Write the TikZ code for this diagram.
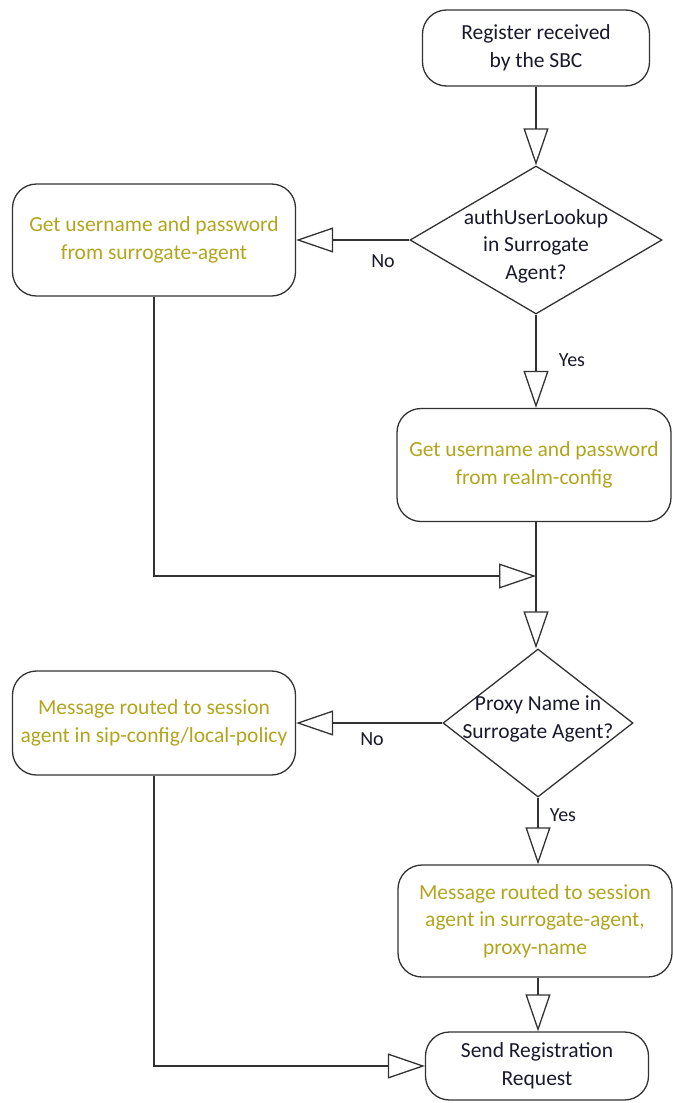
\documentclass[tikz,border=0pt]{standalone}
\usepackage{fontspec}
\setmainfont{Carlito}
\usetikzlibrary{arrows.meta,shapes.geometric}
\definecolor{txtdark}{RGB}{25,25,45}
\definecolor{txtolive}{RGB}{178,165,30}
\definecolor{linegray}{RGB}{50,50,50}
\begin{document}
\begin{tikzpicture}[x=1pt,y=-1pt,
  every node/.style={font=\fontsize{21.5}{27.5}\selectfont},
  box/.style={draw=linegray, line width=1.3pt, rounded corners=24pt, align=center, inner sep=0pt},
  dia/.style={draw=linegray, line width=1.3pt, diamond, inner sep=0pt},
  flow/.style={draw=linegray, line width=1.3pt, -{Triangle[open,length=37pt,width=25pt,line width=1.3pt]}},
  lbl/.style={text=txtdark, font=\fontsize{20}{24}\selectfont}]
\useasboundingbox (0,0) rectangle (672,1103);

% nodes
\node[box, minimum width=227pt, minimum height=76pt, text=txtdark] (start) at (536,48) {Register received\\by the SBC};
\node[dia, minimum width=252pt, minimum height=148pt] (d1) at (536,240) {};
\node[text=txtdark, align=center] (d1t) at (536,246) {authUserLookup\\in Surrogate\\Agent?};
\node[box, minimum width=283pt, minimum height=112pt, text=txtolive] (b1) at (154,240) {Get username and password\\from surrogate-agent};
\node[box, minimum width=274pt, minimum height=113pt, text=txtolive] (b2) at (534,465) {Get username and password\\from realm-config};
\coordinate (j) at (536,576);
\node[dia, minimum width=190pt, minimum height=148pt] (d2) at (538,723) {};
\node[text=txtdark, align=center] (d2t) at (538,719) {Proxy Name in\\Surrogate Agent?};
\node[box, minimum width=283pt, minimum height=104pt, text=txtolive] (b3) at (154,723) {Message routed to session\\agent in sip-config/local-policy};
\node[box, minimum width=274pt, minimum height=112pt, text=txtolive] (b4) at (535,921) {Message routed to session\\agent in surrogate-agent,\\proxy-name};
\node[box, minimum width=223pt, minimum height=68pt, text=txtdark] (fin) at (537,1066) {Send Registration\\Request};

% labels
\node[lbl] (no1) at (383,261) {No};
\node[lbl] (yes1) at (572,360) {Yes};
\node[lbl] (no2) at (372,739) {No};
\node[lbl] (yes2) at (563,815) {Yes};

% connectors
\draw[flow] (start.south -| d1.north) -- (d1.north);
\draw[flow] (d1.west) -- (b1.east);
\draw[flow] (d1.south) -- (d1.south |- b2.north);
\draw[flow] (b1.south) |- (j);
\draw[flow] (d1.south |- b2.south) -- (d1.south |- d2.north);
\draw[flow] (d2.west) -- (b3.east);
\draw[flow] (d2.south) -- (d2.south |- b4.north);
\draw[flow] (d2.south |- b4.south) -- (d2.south |- fin.north);
\draw[flow] (b3.south) |- (fin.west);
\end{tikzpicture}
\end{document}
